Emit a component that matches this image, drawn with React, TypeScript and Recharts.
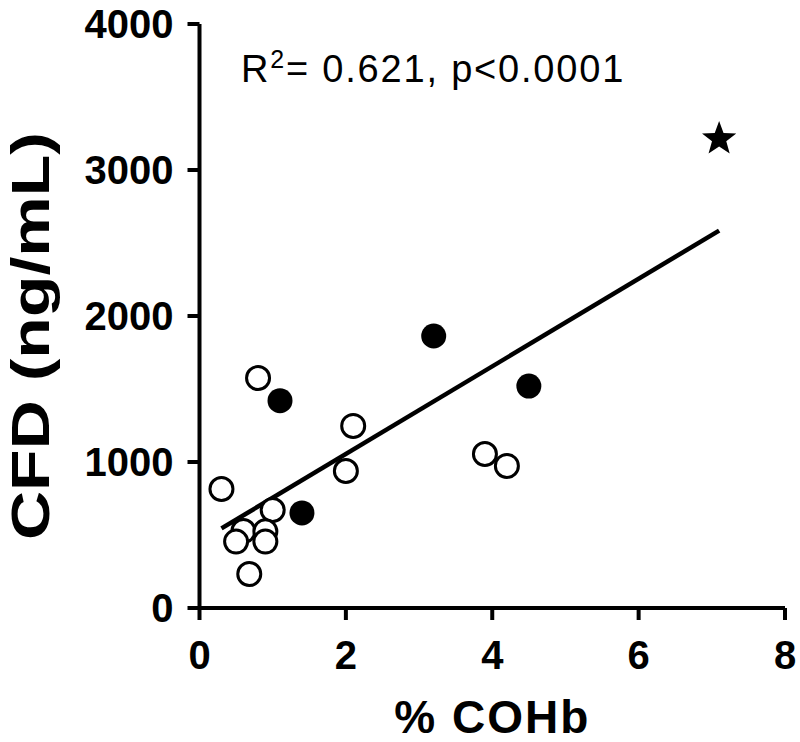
import React from 'react';
import { ScatterChart, Scatter, XAxis, YAxis, ReferenceLine, Label } from 'recharts';

const openX = [0.8, 2.1, 0.3, 2.0, 3.9, 4.2, 1.0, 0.6, 0.5, 0.9, 0.9, 0.68];
const openY = [1575, 1247, 815, 938, 1055, 973, 671, 527, 455, 525, 455, 233];
const filledX = [1.1, 1.4, 3.2, 4.5];
const filledY = [1420, 651, 1863, 1520];
const starX = [7.1];
const starY = [3226];
const fitX = [0.3, 7.1];
const fitY = [545, 2585];
const xTicks = [0, 2, 4, 6, 8];
const yTicks = [0, 1000, 2000, 3000, 4000];

const openData = openX.map((x, i) => ({ x, y: openY[i] }));
const filledData = filledX.map((x, i) => ({ x, y: filledY[i] }));
const starData = starX.map((x, i) => ({ x, y: starY[i] }));

const FONT = '"Liberation Sans", Arial, Helvetica, sans-serif';

const OpenCircle = (p: any) => (
  <circle cx={p.cx} cy={p.cy} r={11.5} fill="#fff" stroke="#000" strokeWidth={3} />
);
const FilledCircle = (p: any) => (
  <circle cx={p.cx} cy={p.cy} r={12.5} fill="#000" stroke="none" />
);
const Star = (p: any) => {
  const R = 18;
  const r = 7.5;
  const pts: string[] = [];
  for (let i = 0; i < 10; i++) {
    const rad = i % 2 === 0 ? R : r;
    const a = -Math.PI / 2 + (i * Math.PI) / 5;
    pts.push(`${p.cx + rad * Math.cos(a)},${p.cy + 2 + rad * Math.sin(a)}`);
  }
  return <polygon points={pts.join(' ')} fill="#000" />;
};

const XTitle = (props: any) => {
  const vb = props.viewBox;
  return (
    <text x={vb.x + vb.width / 2 + 0} y={733} textAnchor="middle" fontFamily={FONT} fontWeight="bold" fontSize={46} letterSpacing={2} fill="#000">
      % COHb
    </text>
  );
};

const YTitle = () => (
  <text
    transform="translate(49,336) rotate(-90)"
    textAnchor="middle"
    fontFamily={FONT}
    fontWeight="bold"
    fontSize={54}
    fill="#000"
    textLength={408}
    lengthAdjust="spacingAndGlyphs"
  >
    CFD (ng/mL)
  </text>
);

export default function App() {
  return (
    <div style={{ position: 'absolute', left: 0, top: 0, background: '#fff' }}>
      <ScatterChart width={800} height={742} margin={{ top: 24, right: 15, bottom: 10, left: 9.5 }}>
        <XAxis
          type="number"
          dataKey="x"
          domain={[0, 8]}
          ticks={xTicks}
          tickSize={12}
          tickMargin={21}
          height={124}
          axisLine={{ stroke: '#000', strokeWidth: 4 }}
          tickLine={{ stroke: '#000', strokeWidth: 4 }}
          tick={{ fill: '#000', fontSize: 40, fontWeight: 'bold', fontFamily: FONT }}
        >
          <Label content={<XTitle />} />
        </XAxis>
        <YAxis
          type="number"
          dataKey="y"
          domain={[0, 4000]}
          ticks={yTicks}
          tickSize={12}
          tickMargin={14}
          width={190}
          axisLine={{ stroke: '#000', strokeWidth: 4 }}
          tickLine={{ stroke: '#000', strokeWidth: 4 }}
          tick={{ fill: '#000', fontSize: 40, fontWeight: 'bold', fontFamily: FONT }}
        >
          <Label content={<YTitle />} />
        </YAxis>
        <ReferenceLine
          segment={[{ x: fitX[0], y: fitY[0] }, { x: fitX[1], y: fitY[1] }]}
          stroke="#000"
          strokeWidth={4.5}
          ifOverflow="visible"
        />
        <Scatter data={openData} shape={<OpenCircle />} isAnimationActive={false} />
        <Scatter data={filledData} shape={<FilledCircle />} isAnimationActive={false} />
        <Scatter data={starData} shape={<Star />} isAnimationActive={false} />
        <text x={241} y={82} fontFamily={FONT} fontSize={38} letterSpacing={1.8} fill="#000">
          R<tspan dy={-14} fontSize={25}>2</tspan>
          <tspan dy={14}>= 0.621, p&lt;0.0001</tspan>
        </text>
      </ScatterChart>
    </div>
  );
}
